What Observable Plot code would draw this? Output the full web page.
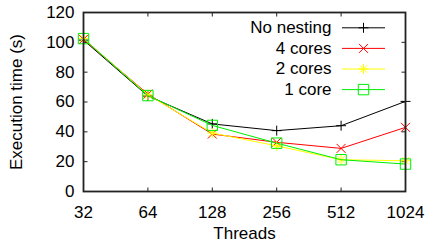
<!DOCTYPE html>
<html>
<head>
<meta charset="utf-8">
<script src="https://cdn.jsdelivr.net/npm/d3@7"></script>
<script src="https://cdn.jsdelivr.net/npm/@observablehq/plot@0.6"></script>
<style>
  html, body { margin: 0; padding: 0; background: #fff; }
  #chart svg { display: block; }
</style>
</head>
<body>
<div id="chart"></div>
<script>
const threads = [32, 64, 128, 256, 512, 1024];
const yTicks = [0, 20, 40, 60, 80, 100, 120];
const seriesNames = ["No nesting", "4 cores", "2 cores", "1 core"];
const noNesting = [101.5, 64, 45.3, 40.8, 44.1, 60.4];
const cores4 = [102, 65.3, 38.5, 33, 28.9, 43];
const cores2 = [102.5, 64.8, 39.2, 30.6, 21.3, 20.6];
const core1 = [102.5, 64.3, 44.3, 32.4, 21.3, 18.4];
const seriesColors = ["#000000", "#ff0000", "#ffff00", "#00ee00"];

const plusSym = {draw(c) { c.moveTo(-5, 0); c.lineTo(5, 0); c.moveTo(0, -5); c.lineTo(0, 5); }};
const timesSym = {draw(c) { c.moveTo(-4.5, -4.5); c.lineTo(4.5, 4.5); c.moveTo(-4.5, 4.5); c.lineTo(4.5, -4.5); }};
const starSym = {draw(c) {
  c.moveTo(-5, 0); c.lineTo(5, 0); c.moveTo(0, -5); c.lineTo(0, 5);
  c.moveTo(-3.6, -3.6); c.lineTo(3.6, 3.6); c.moveTo(-3.6, 3.6); c.lineTo(3.6, -3.6);
}};
const squareSym = {draw(c) { c.moveTo(-5.2, -5.2); c.lineTo(5.2, -5.2); c.lineTo(5.2, 5.2); c.lineTo(-5.2, 5.2); c.closePath(); }};
const lineSym = {draw(c) { c.moveTo(-21.5, 0); c.lineTo(21.5, 0); }};
const tickUp = {draw(c) { c.moveTo(0, 0); c.lineTo(0, -4); }};
const tickDown = {draw(c) { c.moveTo(0, 0); c.lineTo(0, 4); }};
const tickRight = {draw(c) { c.moveTo(0, 0); c.lineTo(4, 0); }};
const tickLeft = {draw(c) { c.moveTo(0, 0); c.lineTo(-4, 0); }};
const symbols = [plusSym, timesSym, starSym, squareSym];

const allValues = [noNesting, cores4, cores2, core1];
const rows = [];
allValues.forEach((vals, si) => vals.forEach((v, i) => rows.push({series: seriesNames[si], si, t: threads[i], v})));

const marks = [];
seriesNames.forEach((name, si) => {
  const d = rows.filter(r => r.si === si);
  marks.push(Plot.line(d, {x: "t", y: "v", stroke: seriesColors[si], strokeWidth: 1}));
  marks.push(Plot.dot(d, {x: "t", y: "v", symbol: symbols[si], r: 5, stroke: seriesColors[si], fill: "none", strokeWidth: 1}));
});

// legend
seriesNames.forEach((name, si) => {
  const dy = 15.3 + si * 20.6;
  marks.push(Plot.text([name], {text: d => d, frameAnchor: "top-right", dx: -74, dy, textAnchor: "end", lineAnchor: "middle", fontSize: 17, fill: "#000"}));
  marks.push(Plot.dot([name], {frameAnchor: "top-right", dx: -42, dy, symbol: lineSym, r: 5, stroke: seriesColors[si], fill: "none", strokeWidth: 1}));
  marks.push(Plot.dot([name], {frameAnchor: "top-right", dx: -42, dy, symbol: symbols[si], r: 5, stroke: seriesColors[si], fill: "none", strokeWidth: 1}));
});

const tickStyle = {r: 5, stroke: "#222", fill: "none", strokeWidth: 1};
const chart = Plot.plot({
  width: 429,
  height: 246,
  marginLeft: 83,
  marginRight: 24,
  marginTop: 12,
  marginBottom: 55,
  style: {fontFamily: "'Liberation Sans', Arial, Helvetica, sans-serif", fontSize: "17px", color: "#000", background: "#fff"},
  x: {type: "log", base: 2, domain: [32, 1024], axis: null},
  y: {domain: [0, 120], axis: null},
  marks: [
    Plot.dot(threads, {x: d => d, frameAnchor: "bottom", symbol: tickUp, ...tickStyle}),
    Plot.dot(threads, {x: d => d, frameAnchor: "top", symbol: tickDown, ...tickStyle}),
    Plot.dot(yTicks, {y: d => d, frameAnchor: "left", symbol: tickRight, ...tickStyle}),
    Plot.dot(yTicks, {y: d => d, frameAnchor: "right", symbol: tickLeft, ...tickStyle}),
    Plot.text(threads, {x: d => d, text: d => String(d), frameAnchor: "bottom", dy: 14, lineAnchor: "top", fontSize: 17, fill: "#000"}),
    Plot.text(yTicks, {y: d => d, text: d => String(d), frameAnchor: "left", dx: -9, textAnchor: "end", lineAnchor: "middle", fontSize: 17, fill: "#000"}),
    Plot.text(["Threads"], {text: d => d, frameAnchor: "bottom", dy: 35.3, lineAnchor: "top", fontSize: 17, fill: "#000"}),
    Plot.text(["Execution time (s)"], {text: d => d, frameAnchor: "left", dx: -67, rotate: -90, textAnchor: "middle", lineAnchor: "middle", fontSize: 17, fill: "#000"}),
    ...marks,
    Plot.frame({stroke: "#222", strokeWidth: 1.8})
  ]
});
document.getElementById("chart").appendChild(chart);
</script>
</body>
</html>
